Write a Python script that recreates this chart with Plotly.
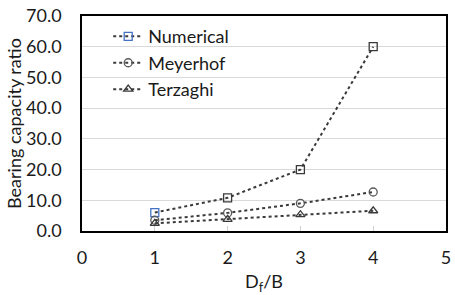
import plotly.graph_objects as go

x_vals = [1, 2, 3, 4]
numerical = [6.0, 10.8, 20.0, 60.0]
meyerhof = [3.5, 5.9, 9.0, 12.7]
terzaghi = [2.5, 3.8, 5.3, 6.6]
series_names = ["Numerical", "Meyerhof", "Terzaghi"]

font = "Lato, Carlito, 'Open Sans', sans-serif"
dark = "#3a3a3a"

fig = go.Figure()
specs = [
    (numerical, "square-open", ["#4472C4", dark, dark, dark]),
    (meyerhof, "circle-open", ["#595959"] * 4),
    (terzaghi, "triangle-up-open", [dark] * 4),
]
for name, (vals, sym, cols) in zip(series_names, specs):
    fig.add_trace(go.Scatter(
        x=x_vals, y=vals, name=name, mode="lines+markers",
        line=dict(color=dark, width=2, dash="dot"),
        marker=dict(symbol=sym, size=8, color=cols, line=dict(width=1.3, color=cols)),
    ))

fig.update_layout(
    width=455, height=295,
    margin=dict(l=82, r=4, t=12, b=63),
    paper_bgcolor="white", plot_bgcolor="white",
    font=dict(family=font, size=18, color="#1a1a1a"),
    showlegend=True,
    legend=dict(x=0.072, y=0.99, xanchor="left", yanchor="top",
                bgcolor="rgba(0,0,0,0)", font=dict(size=18),
                tracegroupgap=0),
    xaxis=dict(range=[0, 5], dtick=1, showgrid=False,
               showline=True, linecolor="black", linewidth=1.5, mirror=True,
               ticks="inside", ticklen=5, tickcolor="#d0d0d0",
               ticklabeloverflow="allow", ticklabelstandoff=10,
               title=dict(text="D<sub>f</sub>/B", font=dict(size=18), standoff=10),
               tickfont=dict(size=18), zeroline=False),
    yaxis=dict(range=[0, 70], dtick=10, tickformat=".1f", showgrid=True,
               gridcolor="#d9d9d9", gridwidth=1,
               showline=True, linecolor="black", linewidth=1.5, mirror=True,
               ticklabelstandoff=15,
               title=dict(text="Bearing capacity ratio", font=dict(size=18), standoff=0),
               tickfont=dict(size=18), zeroline=False),
)

fig.write_html("out.html", config={"displayModeBar": False},
               post_script="document.body.style.margin='0';document.body.style.padding='0';")
